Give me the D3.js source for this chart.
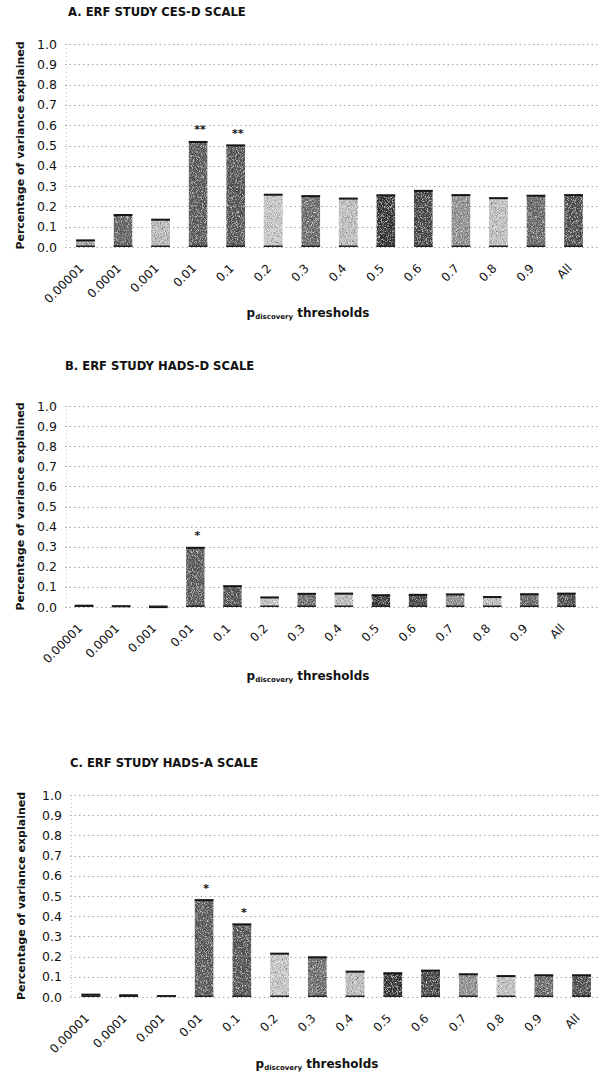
<!DOCTYPE html>
<html>
<head>
<meta charset="utf-8">
<script src="https://cdn.jsdelivr.net/npm/d3@7/dist/d3.min.js"></script>
<style>
  html, body { margin: 0; padding: 0; background: #fff; }
  svg { display: block; font-family: "DejaVu Sans", Verdana, sans-serif; }
</style>
</head>
<body>
<svg id="chart" width="603" height="1083"></svg>
<script>
// P-value thresholds used for the polygenic score
const thresholds = ["0.00001", "0.0001", "0.001", "0.01", "0.1", "0.2", "0.3", "0.4", "0.5", "0.6", "0.7", "0.8", "0.9", "All"];

// Percentage of variance explained, per scale
const cesD  = [0.035, 0.160, 0.137, 0.520, 0.503, 0.260, 0.253, 0.241, 0.257, 0.279, 0.258, 0.243, 0.255, 0.258];
const hadsD = [0.009, 0.006, 0.002, 0.297, 0.106, 0.050, 0.068, 0.069, 0.061, 0.063, 0.065, 0.052, 0.066, 0.069];
const hadsA = [0.014, 0.011, 0.007, 0.482, 0.362, 0.217, 0.199, 0.128, 0.120, 0.133, 0.115, 0.106, 0.110, 0.110];

// Significance markers above bars
const cesDStars  = ["", "", "", "**", "**", "", "", "", "", "", "", "", "", ""];
const hadsDStars = ["", "", "", "*", "", "", "", "", "", "", "", "", "", ""];
const hadsAStars = ["", "", "", "*", "*", "", "", "", "", "", "", "", "", ""];

// Y axis tick values
const yTicks = [0, 0.1, 0.2, 0.3, 0.4, 0.5, 0.6, 0.7, 0.8, 0.9, 1.0];

// Grey shade of each threshold's bar
const barShades = ["#b0b0b0", "#6a6a6a", "#c0c0c0", "#606060", "#5a5a5a", "#cdcdcd", "#737373",
                   "#c4c4c4", "#3a3a3a", "#4c4c4c", "#959595", "#c8c8c8", "#6e6e6e", "#555555"];

const panels = [
  { title: "A. ERF STUDY CES-D SCALE",  values: cesD,  stars: cesDStars,
    titleX: 68, titleY: 12, yTop: 44, yBottom: 247, xLeft: 66.7, xRight: 592.3, axisX: 65, yTitleX: 20, xTitleY: 313, xTitleCx: 308 },
  { title: "B. ERF STUDY HADS-D SCALE", values: hadsD, stars: hadsDStars,
    titleX: 65, titleY: 366, yTop: 406, yBottom: 607, xLeft: 65.5, xRight: 585, axisX: 65, yTitleX: 20, xTitleY: 676, xTitleCx: 308 },
  { title: "C. ERF STUDY HADS-A SCALE", values: hadsA, stars: hadsAStars,
    titleX: 70, titleY: 763, yTop: 795, yBottom: 997, xLeft: 72, xRight: 600.4, axisX: 70, yTitleX: 21, xTitleY: 1064, xTitleCx: 317 }
];

const svg = d3.select("#chart");
svg.append("rect").attr("width", 603).attr("height", 1083).attr("fill", "#fff");

// Stippled print texture for the bar fills
const defs = svg.append("defs");
const grain = defs.append("filter").attr("id", "grain")
  .attr("x", 0).attr("y", 0).attr("width", "100%").attr("height", "100%");
grain.append("feTurbulence").attr("type", "fractalNoise").attr("baseFrequency", 1.2)
  .attr("numOctaves", 1).attr("seed", 5).attr("result", "noise");
grain.append("feColorMatrix").attr("in", "noise").attr("type", "matrix")
  .attr("values", "0.33 0.33 0.33 0 0  0.33 0.33 0.33 0 0  0.33 0.33 0.33 0 0  0 0 0 0 1")
  .attr("result", "grey");
const ct = grain.append("feComponentTransfer").attr("in", "grey").attr("result", "contrast");
["feFuncR", "feFuncG", "feFuncB"].forEach(f =>
  ct.append(f).attr("type", "linear").attr("slope", 2.0).attr("intercept", -0.5));
grain.append("feBlend").attr("in", "SourceGraphic").attr("in2", "contrast").attr("mode", "overlay").attr("result", "mix");
grain.append("feComposite").attr("in", "mix").attr("in2", "SourceGraphic").attr("operator", "in");

panels.forEach(p => {
  const g = svg.append("g");

  const y = d3.scaleLinear().domain([0, 1]).range([p.yBottom, p.yTop]);
  const x = d3.scaleBand().domain(thresholds).range([p.xLeft, p.xRight])
    .paddingInner(0.5).paddingOuter(0.25);

  // Panel title
  g.append("text")
    .attr("x", p.titleX).attr("y", p.titleY + 4)
    .attr("font-size", 11.6).attr("font-weight", "bold").attr("fill", "#111")
    .text(p.title);

  // Dotted horizontal gridlines
  g.append("g").selectAll("line").data(yTicks).join("line")
    .attr("x1", p.axisX).attr("x2", 600)
    .attr("y1", d => Math.round(y(d)) + 0.5).attr("y2", d => Math.round(y(d)) + 0.5)
    .attr("stroke", "#a8a8a8").attr("stroke-width", 1)
    .attr("stroke-dasharray", "1.5,3");

  // Faint dotted vertical axis
  g.append("line")
    .attr("x1", p.axisX + 1.5).attr("x2", p.axisX + 1.5)
    .attr("y1", y(1)).attr("y2", y(0))
    .attr("stroke", "#c4c4c4").attr("stroke-dasharray", "1,3");

  // Y axis labels
  const yAxis = g.append("g").attr("transform", `translate(${p.axisX},0)`)
    .call(d3.axisLeft(y).tickValues(yTicks).tickFormat(d3.format(".1f")).tickSize(0).tickPadding(8));
  yAxis.select(".domain").remove();
  yAxis.selectAll("text").attr("font-size", 12.5).attr("fill", "#111")
    .attr("font-family", "DejaVu Sans, Verdana, sans-serif");

  // Y axis title
  g.append("text")
    .attr("transform", `translate(${p.yTitleX},${(y(0) + y(1)) / 2}) rotate(-90)`)
    .attr("text-anchor", "middle").attr("dy", "0.35em")
    .attr("font-size", 11).attr("font-weight", "bold").attr("fill", "#111")
    .text("Percentage of variance explained");

  // Bars
  const rows = thresholds.map((t, i) => ({ t, v: p.values[i], shade: barShades[i], star: p.stars[i] }));
  const bars = g.append("g");
  bars.selectAll("rect.bar").data(rows).join("rect")
    .attr("class", "bar")
    .attr("x", d => x(d.t)).attr("width", x.bandwidth())
    .attr("y", d => y(d.v)).attr("height", d => Math.max(1, y(0) - y(d.v)))
    .attr("fill", d => d.shade)
    .attr("filter", "url(#grain)");
  // Dark top edge of each bar
  bars.selectAll("rect.cap").data(rows).join("rect")
    .attr("class", "cap")
    .attr("x", d => x(d.t)).attr("width", x.bandwidth())
    .attr("y", d => y(d.v) - 0.5).attr("height", 2)
    .attr("fill", "#151515");
  // Dark base edge
  bars.selectAll("rect.base").data(rows).join("rect")
    .attr("class", "base")
    .attr("x", d => x(d.t)).attr("width", x.bandwidth())
    .attr("y", y(0) - 1.5).attr("height", 1.5)
    .attr("fill", "#222");

  // Significance stars
  g.append("g").selectAll("text").data(rows.filter(d => d.star)).join("text")
    .attr("x", d => x(d.t) + x.bandwidth() / 2 + 2)
    .attr("y", d => y(d.v) - 8)
    .attr("text-anchor", "middle")
    .attr("font-size", 11).attr("font-weight", "bold").attr("fill", "#111")
    .text(d => d.star);

  // X axis labels, rotated
  const xAxis = g.append("g").attr("transform", `translate(0,${p.yBottom})`)
    .call(d3.axisBottom(x).tickSize(0));
  xAxis.select(".domain").remove();
  xAxis.selectAll("text")
    .attr("font-size", 12).attr("fill", "#111")
    .attr("font-family", "DejaVu Sans, Verdana, sans-serif")
    .attr("text-anchor", "end")
    .attr("y", 0).attr("dy", "0.35em")
    .attr("transform", "translate(-4,19) rotate(-45)");

  // X axis title with subscript
  const xt = g.append("text")
    .attr("x", p.xTitleCx).attr("y", p.xTitleY + 4)
    .attr("text-anchor", "middle").attr("fill", "#111").attr("font-weight", "bold");
  xt.append("tspan").attr("font-size", 12).text("p");
  xt.append("tspan").attr("font-size", 7).attr("dy", 2).text("discovery");
  xt.append("tspan").attr("font-size", 12).attr("dy", -2).text(" thresholds");
});
</script>
</body>
</html>
